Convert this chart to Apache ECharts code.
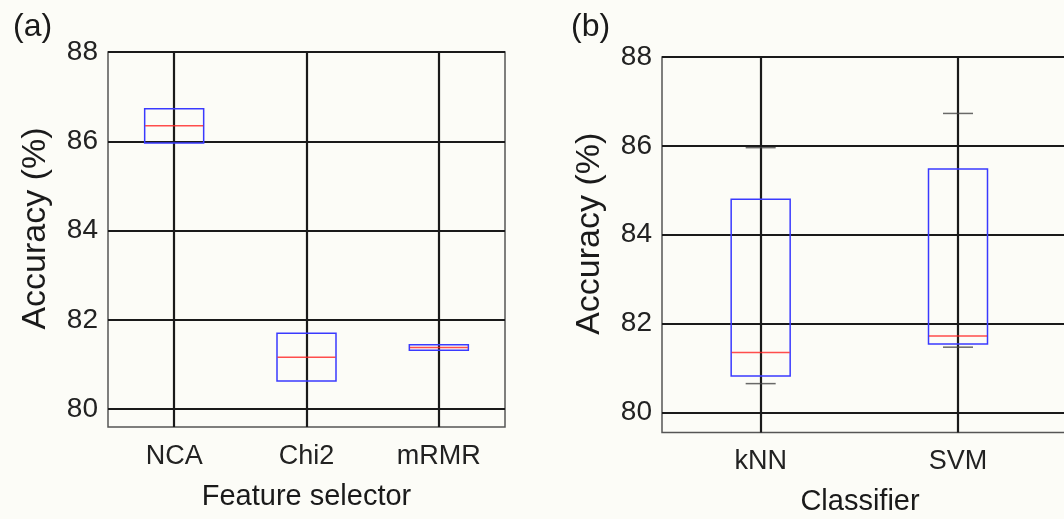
<!DOCTYPE html>
<html>
<head>
<meta charset="utf-8">
<script src="https://cdn.jsdelivr.net/npm/echarts@6/dist/echarts.min.js"></script>
<style>
  html, body { margin: 0; padding: 0; background: #fcfcf7; }
  #chart { width: 1064px; height: 519px; }
</style>
</head>
<body>
<div id="chart"></div>
<script>
  // panel (a): feature selectors
  var selectors = ['NCA', 'Chi2', 'mRMR'];
  var selQ1 = [85.96, 80.63, 81.32];
  var selMedian = [86.35, 81.16, 81.38];
  var selQ3 = [86.73, 81.70, 81.44];

  // panel (b): classifiers (third slot is cut off in the figure)
  var classifiers = ['kNN', 'SVM', ''];
  var clsLow = [80.65, 81.47];
  var clsQ1 = [80.82, 81.54];
  var clsMedian = [81.35, 81.72];
  var clsQ3 = [84.80, 85.48];
  var clsHigh = [85.96, 86.73];

  var yTicks = [80, 82, 84, 86, 88];

  var ink = '#1a1a1a';
  var boxBlue = '#3a3aff';
  var medRed = '#ff2020';

  // blue box only: the median slot sits on q1 so no blue line hides the red one
  function boxRows(q1, q3) {
    return q1.map(function (v, i) { return [q1[i], q1[i], q1[i], q3[i], q3[i]]; });
  }

  function yAxisFor(gridIndex, min) {
    return {
      type: 'value', gridIndex: gridIndex, min: min, max: yTicks[yTicks.length - 1],
      name: 'Accuracy (%)', nameLocation: 'middle', nameGap: 55,
      nameTextStyle: { fontSize: 34, color: ink, fontFamily: 'Liberation Sans', padding: [0, 0, 0, 22] },
      axisLine: { show: false }, axisTick: { show: false },
      axisLabel: { fontSize: 28, color: '#222', margin: 10, fontFamily: 'Liberation Sans', showMinLabel: false,
        formatter: function (v) { return yTicks.indexOf(v) >= 0 ? String(v) : ''; } },
      splitLine: { show: true, showMinLine: false, lineStyle: { color: ink, width: 2.2 } }
    };
  }

  function catAxisFor(gridIndex, cats, name, namePad) {
    return {
      type: 'category', gridIndex: gridIndex, data: cats, boundaryGap: true,
      name: name, nameLocation: 'middle', nameGap: 55,
      nameTextStyle: { fontSize: 29, color: ink, fontFamily: 'Liberation Sans', padding: namePad },
      axisLine: { show: false }, axisTick: { show: false }, splitLine: { show: false },
      axisLabel: { fontSize: 27, color: '#222', margin: 16, fontFamily: 'Liberation Sans' }
    };
  }

  // hidden value axis only for the vertical grid lines through category centres
  function vGridAxis(gridIndex) {
    return {
      type: 'value', gridIndex: gridIndex, min: 0, max: 6, interval: 1,
      axisLine: { show: false }, axisTick: { show: false }, axisLabel: { show: false },
      splitLine: { show: true, lineStyle: { color: ['transparent', ink], width: 2.2 } }
    };
  }

  function markSeries(xi, yi, values, size, color) {
    return {
      type: 'scatter', xAxisIndex: xi, yAxisIndex: yi, data: values,
      symbol: 'rect', symbolSize: size, silent: true, z: 5,
      itemStyle: { color: color }
    };
  }

  var option = {
    backgroundColor: '#fcfcf7',
    animation: false,
    title: [
      { text: '(a)', left: 8, top: 6, textStyle: { fontSize: 32, fontWeight: 'normal', color: ink, fontFamily: 'Liberation Sans' } },
      { text: '(b)', left: 566, top: 6, textStyle: { fontSize: 32, fontWeight: 'normal', color: ink, fontFamily: 'Liberation Sans' } }
    ],
    grid: [
      { left: 108, top: 52, width: 397, height: 375, outerBoundsMode: 'none',
        show: true, borderColor: '#555', borderWidth: 1.5, backgroundColor: 'transparent' },
      { left: 662, top: 57, width: 592, height: 375.5, outerBoundsMode: 'none',
        show: true, borderColor: '#555', borderWidth: 1.5, backgroundColor: 'transparent' }
    ],
    xAxis: [
      catAxisFor(0, selectors, 'Feature selector', 0),
      vGridAxis(0),
      catAxisFor(1, classifiers, 'Classifier', [0, 196, 0, 0]),
      vGridAxis(1)
    ],
    yAxis: [yAxisFor(0, 79.6), yAxisFor(1, 79.55)],
    series: [
      {
        type: 'boxplot', xAxisIndex: 0, yAxisIndex: 0, data: boxRows(selQ1, selQ3),
        boxWidth: [59, 59], silent: true,
        itemStyle: { color: 'transparent', borderColor: boxBlue, borderWidth: 1.5 }
      },
      markSeries(0, 0, selMedian, [58, 1.5], medRed),
      {
        type: 'boxplot', xAxisIndex: 2, yAxisIndex: 1, data: boxRows(clsQ1, clsQ3),
        boxWidth: [59, 59], silent: true,
        itemStyle: { color: 'transparent', borderColor: boxBlue, borderWidth: 1.5 }
      },
      markSeries(2, 1, clsMedian, [58, 1.5], medRed),
      markSeries(2, 1, clsLow, [30, 1.5], '#444'),
      markSeries(2, 1, clsHigh, [30, 1.5], '#444')
    ]
  };

  var chart = echarts.init(document.getElementById('chart'));
  chart.setOption(option);
</script>
</body>
</html>
